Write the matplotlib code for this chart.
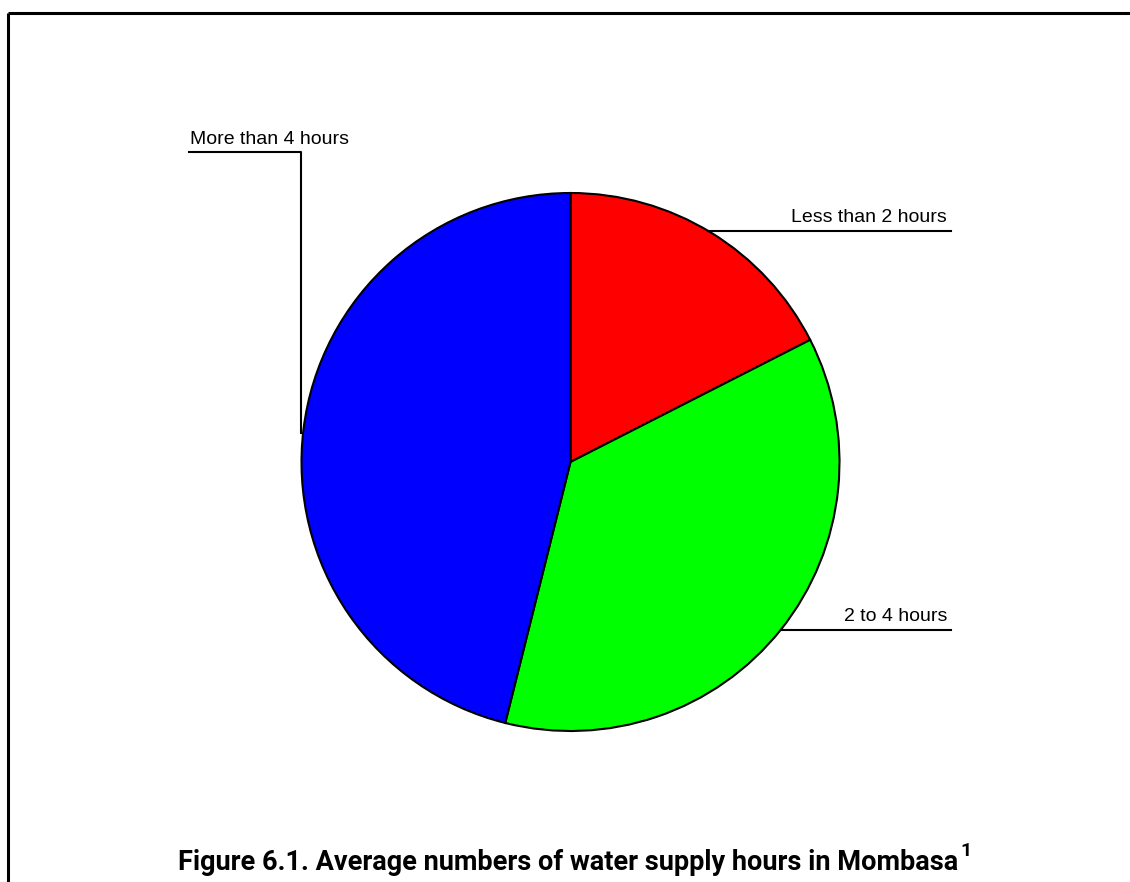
import numpy as np
import matplotlib
matplotlib.use('Agg')
import matplotlib.pyplot as plt

# water supply hours, Mombasa (share of households, %)
categories = ['Less than 2 hours', '2 to 4 hours', 'More than 4 hours']
shares = [17.5, 36.4, 46.1]
colors = ['#ff0000', '#00ff00', '#0000ff']

W, H = 1130, 882
fig = plt.figure(figsize=(W / 100, H / 100), dpi=100)
ax = fig.add_axes([0, 0, 1, 1])

# pie in pixel coordinates (y up)
cx, cy, r = 570.5, H - 462, 269
ax.pie(shares, colors=colors, startangle=90, counterclock=False,
       center=(cx, cy), radius=r,
       wedgeprops=dict(edgecolor='black', linewidth=1.5))
ax.set_xlim(0, W)
ax.set_ylim(0, H)
ax.set_aspect('auto')
ax.axis('off')

# page frame (top and left only)
ax.plot([8, W], [H - 13, H - 13], color='black', lw=2.2, solid_capstyle='butt')
ax.plot([8, 8], [0, H - 13], color='black', lw=2.2, solid_capstyle='butt')

lab_font = dict(family='Liberation Sans', fontsize=14, color='black')

def edge_x(ypix, side):
    dy = (H - ypix) - cy
    return cx + side * np.sqrt(r ** 2 - dy ** 2)

# right side labels
for name, ypix in [(categories[0], 231), (categories[1], 630)]:
    x0 = edge_x(ypix, 1)
    ax.plot([x0, 951], [H - ypix, H - ypix], color='black', lw=1.5)
    ax.text(947, H - ypix + 5, name, ha='right', va='bottom', **lab_font)

# left label with elbow leader
ax.plot([189, 301, 301], [H - 152, H - 152, H - 433], color='black', lw=1.5)
ax.text(190, H - 148, categories[2], ha='left', va='bottom', **lab_font)

cap = ax.text(568, H - 862, 'Figure 6.1. Average numbers of water supply hours in Mombasa',
              ha='center', va='center', family='Roboto',
              fontweight='bold', fontsize=19.5)
fig.canvas.draw()
bb = cap.get_window_extent()
ax.text(bb.x1 + 2, bb.y1 - 2, '1', ha='left', va='center',
        family='Roboto', fontweight='bold', fontsize=14)

fig.savefig('out.png', dpi=100)
